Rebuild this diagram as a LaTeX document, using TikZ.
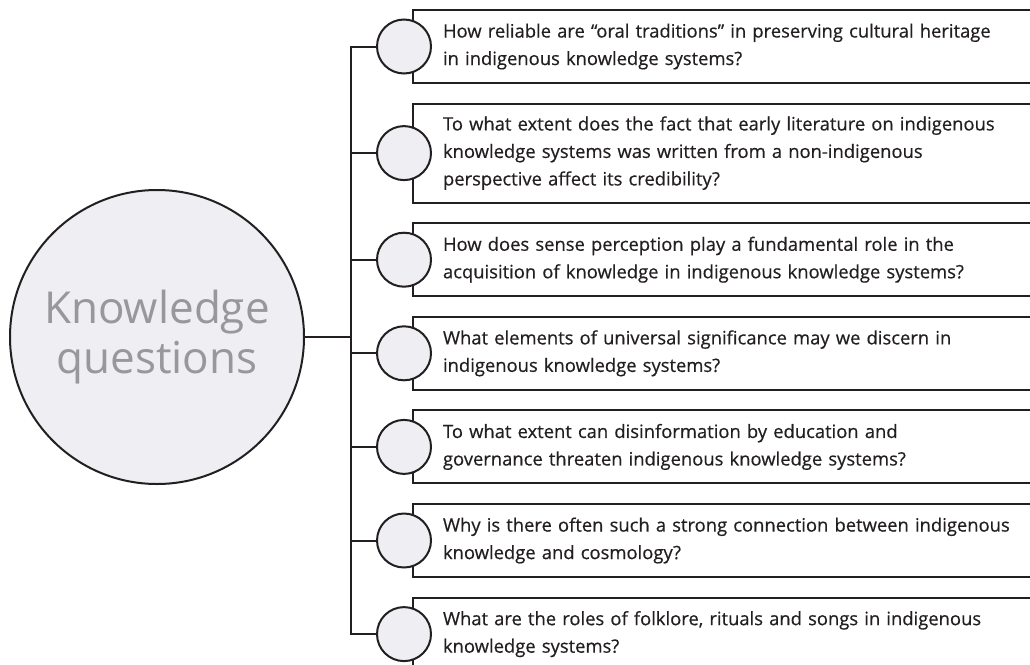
\documentclass[tikz,border=0pt]{standalone}
\usepackage{fontspec}
\setmainfont{Open Sans}
\newfontfamily\qfont{Open Sans}[FakeBold=0.5]
\newfontfamily\kqfont{Open Sans}
\usetikzlibrary{positioning}

\definecolor{dotfill}{RGB}{238,238,243}
\definecolor{kqgrey}{RGB}{152,152,154}
\definecolor{ink}{RGB}{35,31,32}

\begin{document}
\begin{tikzpicture}[x=1pt, y=-1pt, line width=2pt, draw=ink,
    qbox/.style={draw, rectangle, anchor=north west, align=left, text width=600pt, inner xsep=30pt, inner ysep=0pt, minimum height=73pt, text=ink, font=\qfont\fontsize{18.4}{27.5}\selectfont},
    qdot/.style={draw, circle, fill=dotfill, minimum size=54pt, inner sep=0pt}]
    \useasboundingbox (0, 0) rectangle (1030, 664);
    \clip (0, 0) rectangle (1030, 664);

    \node (kq) [draw, circle, fill=dotfill, minimum size=294pt, inner sep=0pt, text=kqgrey, align=center, font=\kqfont\fontsize{44}{50}\selectfont] at (157, 337) {Knowledge\\questions};

    \node (b1) [qbox] at (412, 9) {How reliable are “oral traditions” in preserving cultural heritage\\in indigenous knowledge systems?};
    \node (b2) [qbox, minimum height=99pt, below=18.6pt of b1] {To what extent does the fact that early literature on indigenous\\knowledge systems was written from a non-indigenous\\perspective affect its credibility?};
    \node (b3) [qbox, below=18.6pt of b2] {How does sense perception play a fundamental role in the\\acquisition of knowledge in indigenous knowledge systems?};
    \node (b4) [qbox, below=18.6pt of b3] {What elements of universal significance may we discern in\\indigenous knowledge systems?};
    \node (b5) [qbox, below=18.6pt of b4] {To what extent can disinformation by education and\\governance threaten indigenous knowledge systems?};
    \node (b6) [qbox, below=18.6pt of b5] {Why is there often such a strong connection between indigenous\\knowledge and cosmology?};
    \node (b7) [qbox, below=18.6pt of b6] {What are the roles of folklore, rituals and songs in indigenous\\knowledge systems?};

    % small circles sit over the left edge of each box
    \foreach \i in {1,...,7}
        \node (c\i) [qdot] at ([xshift=-8pt]b\i.west) {};

    % trunk
    \coordinate (tr) at (351, 337);
    \draw (c1.west) -- (c1.west -| tr) |- (c7.west);
    \foreach \i in {2,...,6}
        \draw (c\i.west) -- (c\i.west -| tr);
    \draw (kq.east) -- (kq.east -| tr);
\end{tikzpicture}
\end{document}
